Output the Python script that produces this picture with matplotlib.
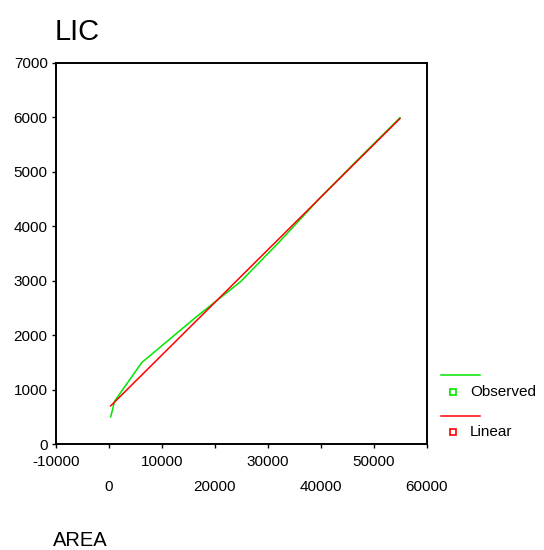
import matplotlib
matplotlib.use("Agg")
import matplotlib.pyplot as plt
from matplotlib.lines import Line2D
import numpy as np

plt.rcParams['font.family'] = ['Liberation Sans', 'DejaVu Sans']

area = [320, 1075, 6170, 16400, 24850, 32000, 40000, 47000, 54900]
lic = [500, 790, 1495, 2330, 2985, 3700, 4540, 5230, 5995]

x_ticks = [-10000, 0, 10000, 20000, 30000, 40000, 50000, 60000]
y_ticks = [0, 1000, 2000, 3000, 4000, 5000, 6000, 7000]

green = '#00e600'
red = '#ff0000'

# linear fit, like the curve estimation output
slope, intercept = np.polyfit(area, lic, 1)
lin = [intercept + slope * a for a in area]

fig = plt.figure(figsize=(5.44, 5.50), dpi=100)
ax = fig.add_axes([56 / 544, 1 - 444 / 550, (427 - 56) / 544, (444 - 63) / 550])

ax.plot(area, lic, color=green, lw=1.1, zorder=2)
ax.plot(area, lin, color=red, lw=1.1, zorder=3)

ax.set_xlim(-10000, 60000)
ax.set_ylim(0, 7000)
ax.set_xticks(x_ticks)
ax.set_xticklabels([str(t) for t in x_ticks])
ax.set_yticks(y_ticks)
ax.set_yticklabels([str(t) for t in y_ticks])

for s in ax.spines.values():
    s.set_linewidth(1.4)
    s.set_color('black')
ax.tick_params(direction='out', length=3, width=1, labelsize=11, colors='black')
ax.tick_params(axis='y', pad=3)

# staggered x labels, two rows
for i, tick in enumerate(ax.xaxis.get_major_ticks()):
    tick.set_pad(5 if i % 2 == 0 else 23)

fig.text(55 / 544, 1 - 32 / 550, 'LIC', fontsize=21, ha='left', va='center')
fig.text(53 / 544, 1 - 540 / 550, 'AREA', fontsize=14.5, ha='left', va='center')

# legend drawn outside at the right
def fx(px):
    return px / 544

def fy(py):
    return 1 - py / 550

for (ly, my, lab, col) in [(375, 392, 'Observed', green), (416, 432, 'Linear', red)]:
    fig.add_artist(Line2D([fx(441), fx(480)], [fy(ly), fy(ly)], color=col, lw=1.1,
                          transform=fig.transFigure))
    fig.add_artist(Line2D([fx(453)], [fy(my)], marker='s', markersize=4.5,
                          markerfacecolor='white', markeredgecolor=col, markeredgewidth=1.2,
                          linestyle='none', transform=fig.transFigure))
    fig.text(fx(470), fy(my), lab, fontsize=11, ha='left', va='center')

fig.savefig('out.png', dpi=100)
